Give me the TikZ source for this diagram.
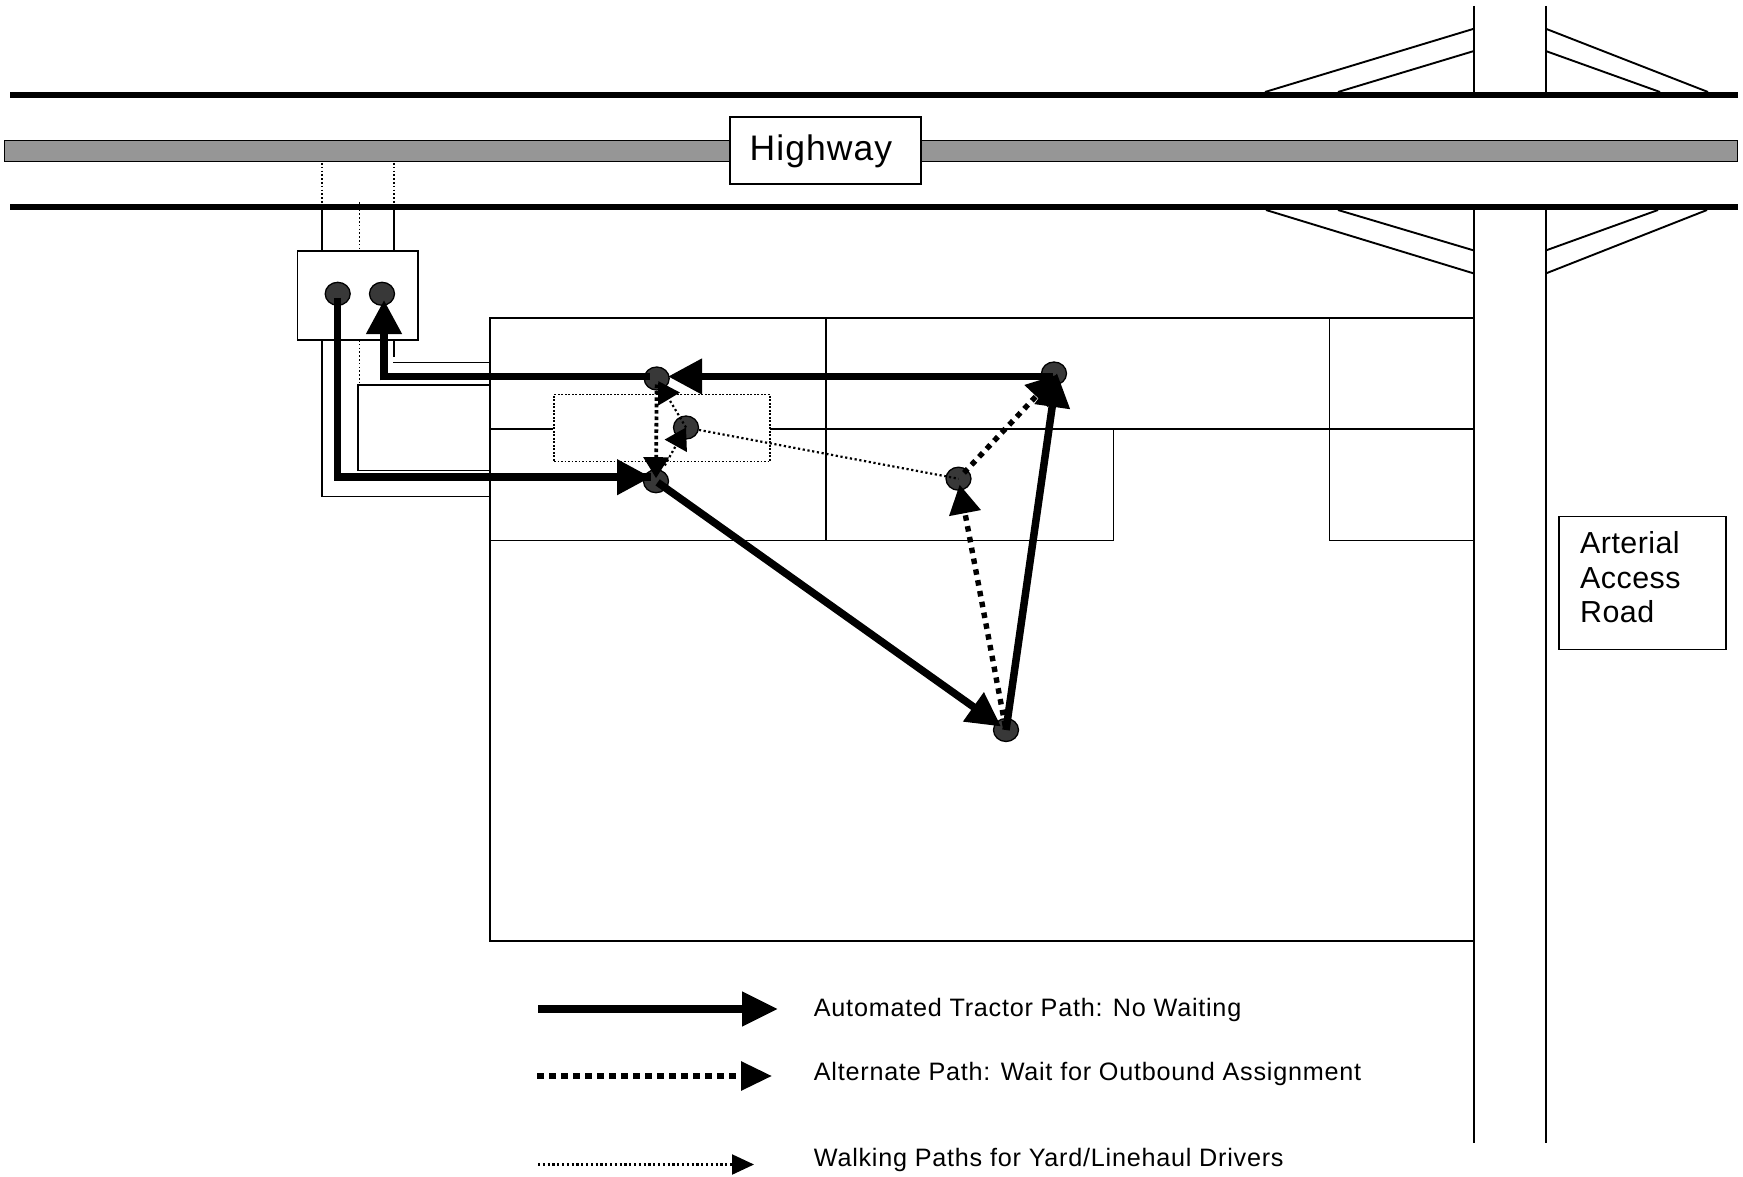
\documentclass[tikz,border=0pt]{standalone}
\usepackage{fontspec}
\setmainfont{Liberation Sans}
\newfontfamily\lsp[LetterSpace=3]{Liberation Sans}
\newfontfamily\lspb[LetterSpace=1.5]{Liberation Sans}
\usetikzlibrary{arrows.meta,shapes.geometric}
\tikzset{
 thin line/.style={draw=black,line width=1.9pt},
 road/.style={draw=black,line width=6pt},
 dotline/.style={draw=black,line width=1.5pt,dash pattern=on 1.6pt off 2.2pt},
 labelbox/.style={draw=black,line width=1.9pt,fill=white,inner sep=0pt},
 stop/.style={ellipse,draw=black,line width=1.3pt,fill=black!78,minimum width=25pt,minimum height=23pt,inner sep=0pt},
 tractor/.style={draw=black,line width=7.5pt,line join=miter},
 alternate/.style={draw=black,line width=5.4pt,dash pattern=on 5.5pt off 5.5pt},
 walk/.style={draw=black,line width=2.2pt,dash pattern=on 2.2pt off 2.6pt},
 walkheavy/.style={draw=black,line width=3.8pt,dash pattern=on 3.6pt off 2.8pt},
 bighead/.style={-{Triangle[length=34pt,width=34pt]}},
 midhead/.style={-{Triangle[length=29pt,width=31pt]}},
 smallhead/.style={-{Triangle[length=21pt,width=25pt]}},
 legendtext/.style={anchor=west,inner sep=0pt,font=\fontsize{25.2}{25.2}\selectfont\lsp},
}
\begin{document}
\begin{tikzpicture}[x=1pt,y=-1pt]
\useasboundingbox (0,0) rectangle (1743,1177);
\fill[white] (0,0) rectangle (1743,1177);
% highway
\path[fill=black!41,draw=black,line width=1.9pt] (4.5,140.5) rectangle (1737.5,161.5);
\coordinate (hl1) at (10,94.7); \coordinate (hr1) at (1738,94.7);
\coordinate (hl2) at (10,207); \coordinate (hr2) at (1738,207);
\draw[road] (hl1) -- (hr1);
\draw[road] (hl2) -- (hr2);
\node[labelbox,minimum width=191.5pt,minimum height=66.5pt] (hwy) at (825.3,150.6) {};
\node[inner sep=0pt,anchor=center,font=\fontsize{35.5}{35.5}\selectfont\lsp] (hwytext) at (821,151.5) {Highway};
% cross road and ramps
\draw[thin line] (1474,6) -- (1474,92) (1545.7,6) -- (1545.7,92);
\draw[thin line] (1474,210) -- (1474,1143) (1545.7,210) -- (1545.7,1143);
\draw[thin line] (1265,92) -- (1474,28.7) (1338,92) -- (1474,51);
\draw[thin line] (1708,92) -- (1545.7,28.7) (1660,92) -- (1545.7,51);
\draw[thin line] (1266,210) -- (1474,273.5) (1338,210) -- (1474,250.5);
\draw[thin line] (1707,210) -- (1545.7,273.5) (1658,210) -- (1545.7,250.5);
% access stubs
\draw[dotline] (322,163) -- (322,204) (394,163) -- (394,204) (359.3,202) -- (359.3,251) (359.3,340) -- (359.3,383);
\draw[thin line] (322,210) -- (322,251) (394,210) -- (394,251);
\draw[thin line] (322,340) -- (322,496.5) -- (490,496.5);
\draw[thin line] (394,340) -- (394,357) (393,362.5) -- (490,362.5);
\node[draw=black,line width=1.9pt,minimum width=120.2pt,minimum height=88.6pt,inner sep=0pt] (gate) at (357.6,295.6) {};
\node[draw=black,line width=1.9pt,minimum width=132pt,minimum height=85.3pt,inner sep=0pt] (lot) at (424,427.8) {};
% yard
\node[draw=black,line width=1.9pt,minimum width=984pt,minimum height=622.8pt,inner sep=0pt] (yard) at (982,629.7) {};
\draw[thin line] (490,429.2) -- (553,429.2) (770,429.2) -- (1474,429.2);
\draw[thin line] (490,540.5) -- (1113.5,540.5) -- (1113.5,429.2);
\draw[thin line] (826,318.3) -- (826,540.5);
\draw[thin line] (1329.5,318.3) -- (1329.5,540.5) -- (1474,540.5);
\node[draw=black,line width=1.5pt,dash pattern=on 1.6pt off 1.9pt,minimum width=216pt,minimum height=67pt,inner sep=0pt] (office) at (662,428) {};
% arterial label
\node[draw=black,line width=1.9pt,minimum width=167.5pt,minimum height=133pt,inner sep=0pt] (art) at (1642.5,583) {};
\node[anchor=north west,inner sep=0pt,align=left,font=\fontsize{30.4}{34.4}\selectfont\lspb] (arttext) at (1580,531.5) {Arterial\\Access\\Road};
% stops
\node[stop] (g1) at (337.7,293.8) {};
\node[stop] (g2) at (382,293.8) {};
\node[stop] (a) at (656.7,378.5) {};
\node[stop] (b) at (686,427.5) {};
\node[stop] (c) at (656,481.2) {};
\node[stop] (d) at (958.5,478.7) {};
\node[stop] (e) at (1054,373.5) {};
\node[stop] (f) at (1006,730) {};
\coordinate (cornerR) at (384,376.5);
\coordinate (cornerL) at (337.7,477.2);
\coordinate (eL) at (1053,376.5);
\coordinate (aT) at (668,376.5);
\coordinate (aL) at (650,376.5);
\coordinate (cT) at (651,477.2);
\coordinate (eT) at (1057,373);
\coordinate (eT2) at (1056,375);
% walking
\draw[walk] (b) -- (d.center);
\draw[walk,smallhead,shorten >=3pt] (b.center) -- (a.center);
\draw[walk,smallhead,shorten <=18pt,shorten >=0pt] (c.center) -- (b.center);
\draw[walkheavy,smallhead,shorten <=6pt,shorten >=3pt] (a.center) -- (c.center);
% alternate
\draw[alternate,midhead,shorten <=4pt,shorten >=6pt] (f.center) -- (d.center);
\draw[alternate,midhead,shorten <=8pt,shorten >=0pt] (d.center) -- (eT2);
% tractor
\draw[tractor,bighead,shorten <=2pt,shorten >=6pt] (c.center) -- (f.center);
\draw[tractor,bighead] (f.center) -- (eT);
\draw[tractor,bighead] (eL) -- (aT);
\draw[tractor] (aL) -- (cornerR);
\draw[tractor,bighead] (cornerR) ++(0,3.75) -- (384,300);
\draw[tractor] (g1.center) ++(0,4) -- (cornerL) -- (cT);
\draw[tractor,bighead] (cornerL) -- (cT);
% legend
\coordinate (l1a) at (538,1009); \coordinate (l1b) at (778,1009);
\coordinate (l2a) at (537,1076); \coordinate (l2b) at (772,1076);
\coordinate (l3a) at (538,1164.5); \coordinate (l3b) at (754,1164.5);
\draw[tractor,-{Triangle[length=36pt,width=33pt]}] (l1a) -- (l1b);
\draw[alternate,line width=6pt,dash pattern=on 7pt off 5pt,-{Triangle[length=31pt,width=28pt]}] (l2a) -- (l2b);
\draw[walk,-{Triangle[length=22pt,width=20pt]}] (l3a) -- (l3b);
\node[legendtext] (t1) at (813.7,1009.5) {Automated Tractor Path: No Waiting};
\node[legendtext] (t2) at (813.7,1074) {Alternate Path: Wait for Outbound Assignment};
\node[legendtext] (t3) at (813.7,1159.5) {Walking Paths for Yard/Linehaul Drivers};
\end{tikzpicture}
\end{document}
